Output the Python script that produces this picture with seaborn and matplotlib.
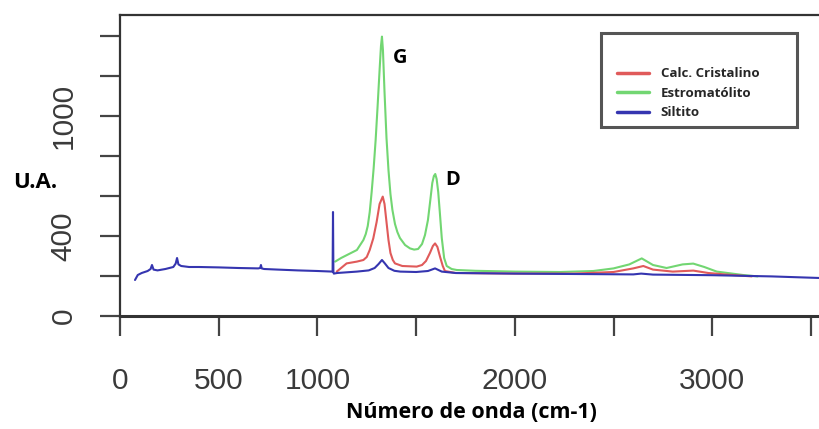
import numpy as np
import pandas as pd
import matplotlib
matplotlib.use("Agg")
import matplotlib.pyplot as plt
from matplotlib.patches import Rectangle
import seaborn as sns

# ---- data ----
siltito_x = [76, 90, 110, 140, 155, 162, 170, 190, 230, 270, 282, 289, 296, 310, 350, 400,
             500, 600, 700, 710, 714, 718, 730, 800, 900, 1000, 1077, 1079, 1081, 1083, 1100,
             1200, 1260, 1290, 1310, 1327, 1340, 1360, 1390, 1420, 1500, 1560, 1596, 1630,
             1700, 2000, 2300, 2600, 2640, 2700, 3000, 3300, 3546]
siltito_y = [180, 205, 215, 225, 235, 255, 232, 228, 235, 245, 262, 290, 258, 250, 245, 245,
             243, 240, 238, 240, 255, 238, 235, 232, 228, 225, 222, 520, 222, 212, 215,
             222, 228, 240, 260, 280, 265, 240, 226, 222, 220, 225, 238, 222,
             215, 212, 210, 208, 212, 207, 204, 198, 190]

estro_x = [1090, 1120, 1150, 1200, 1233, 1245, 1255, 1265, 1275, 1285, 1295, 1305, 1315, 1322,
           1327, 1332, 1340, 1350, 1360, 1370, 1380, 1393, 1405, 1418, 1444, 1469, 1490, 1510,
           1530, 1545, 1560, 1572, 1582, 1590, 1597, 1604, 1612, 1620, 1630, 1642, 1655, 1680,
           1706, 1800, 2000, 2229, 2398, 2500, 2580, 2643, 2700, 2769, 2850, 2904, 2960, 3023,
           3156, 3230]
estro_y = [272, 290, 305, 330, 380, 410, 450, 520, 622, 740, 880, 1050, 1230, 1350,
           1397, 1330, 1120, 890, 730, 610, 530, 460, 420, 390, 355, 338, 332, 335,
           360, 405, 480, 580, 665, 700, 710, 685, 620, 520, 390, 290, 250, 235,
           230, 226, 222, 220, 225, 238, 258, 288, 255, 240, 258, 262, 245, 222,
           205, 198]

calc_x = [1098, 1148, 1200, 1233, 1250, 1265, 1283, 1300, 1315, 1331, 1340, 1350, 1360, 1370,
          1382, 1393, 1430, 1503, 1530, 1550, 1570, 1585, 1596, 1608, 1621, 1635, 1646, 1700,
          2000, 2300, 2500, 2600, 2651, 2700, 2800, 2904, 2980, 3100, 3200]
calc_y = [222, 263, 272, 280, 295, 330, 388, 470, 560, 597, 560, 470, 380, 315,
          280, 263, 250, 247, 255, 275, 315, 350, 363, 345, 297, 250, 225, 215,
          212, 212, 220, 238, 250, 232, 222, 227, 215, 205, 198]

series_names = ["Calc. Cristalino", "Estromatólito", "Siltito"]
series_colors = ["#e05a5a", "#72d672", "#3535b0"]
x_ticks = [0, 500, 1000, 1500, 2000, 2500, 3000, 3500]
x_ticklabels = ["0", "500", "1000", "", "2000", "", "3000", ""]
y_ticks = [0, 200, 400, 600, 800, 1000, 1200, 1400]
y_ticklabels = ["0", "", "400", "", "", "1000", "", ""]

df = pd.concat([
    pd.DataFrame({"x": calc_x, "y": calc_y, "serie": series_names[0]}),
    pd.DataFrame({"x": estro_x, "y": estro_y, "serie": series_names[1]}),
    pd.DataFrame({"x": siltito_x, "y": siltito_y, "serie": series_names[2]}),
], ignore_index=True)

sns.set_style("ticks")
plt.rcParams["font.family"] = ["Liberation Sans", "DejaVu Sans"]

W, H = 820, 429
fig = plt.figure(figsize=(W / 100, H / 100), dpi=100)
ax = fig.add_axes([120 / W, (H - 316) / H, 700 / W, 301 / H])

palette = dict(zip(series_names, series_colors))
for name in [series_names[1], series_names[0], series_names[2]]:
    sub = df[df["serie"] == name]
    sns.lineplot(data=sub, x="x", y="y", color=palette[name], lw=1.5,
                 estimator=None, sort=False, ax=ax, label=name)

ax.set_xlim(0, 3546)
ax.set_ylim(0, 1505)
ax.set_xticks(x_ticks)
ax.set_xticklabels(x_ticklabels)
ax.set_yticks(y_ticks)
ax.set_yticklabels(y_ticklabels, rotation=90, va="center")
ax.tick_params(axis="both", length=14.5, width=1.6, color="#444444",
               labelsize=21.5, labelcolor="#3a3a3a")
ax.tick_params(axis="x", pad=22)
ax.tick_params(axis="y", pad=16)
ax.set_xlabel("")
ax.set_ylabel("")
for s in ["top", "left"]:
    ax.spines[s].set_linewidth(1.6)
    ax.spines[s].set_color("#333333")
ax.spines["bottom"].set_linewidth(2.2)
ax.spines["bottom"].set_color("#333333")
ax.spines["right"].set_visible(False)

bold = dict(family=["Open Sans", "DejaVu Sans"], weight="bold", color="black")
ax.text(1418, 1290, "G", ha="center", va="center", fontsize=14.5, **bold)
ax.text(1685, 678, "D", ha="center", va="center", fontsize=14.5, **bold)
fig.text(35 / W, 1 - 183 / H, "U.A.", ha="center", va="center", fontsize=16, **bold)
fig.text(471 / W, 1 - 412 / H, "Número de onda (cm-1)", ha="center", va="center",
         fontsize=15.5, **bold)

# legend
handles, labels = ax.get_legend_handles_labels()
order = [labels.index(n) for n in series_names]
leg = ax.legend([handles[i] for i in order], [labels[i] for i in order],
                loc="upper left", bbox_to_anchor=(608 / W, 1 - 58 / H),
                bbox_transform=fig.transFigure, frameon=False,
                prop=dict(family="Open Sans", weight="bold", size=9.5),
                handlelength=2.4, handletextpad=0.9, labelspacing=0.49,
                borderpad=0.2)
for h in leg.get_lines():
    h.set_linewidth(2.5)
fig.patches.append(Rectangle((601 / W, 1 - 127 / H), 196 / W, 94 / H,
                             transform=fig.transFigure, fill=False,
                             edgecolor="#555555", lw=2.2))

fig.savefig("out.png", dpi=100)
